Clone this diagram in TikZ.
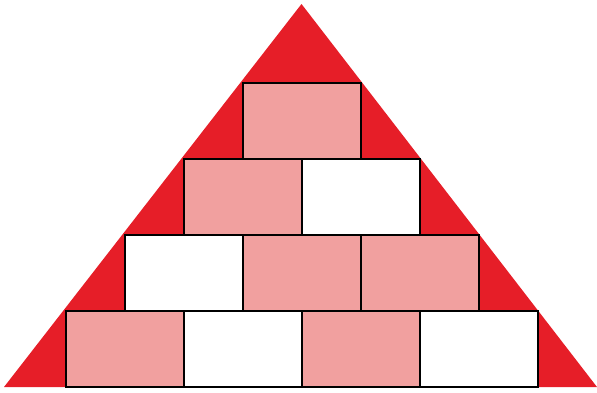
\documentclass[tikz,border=0pt]{standalone}
\definecolor{tri}{HTML}{E61E28}
\definecolor{pinkb}{HTML}{F1A09F}
\begin{document}
\begin{tikzpicture}[x=1pt,y=-1pt,
  brick/.style={draw=black,line width=1.3pt,minimum width=118pt,minimum height=76pt,inner sep=0pt,outer sep=0pt,anchor=north west},
  pb/.style={brick,fill=pinkb},
  wb/.style={brick,fill=white}]
\useasboundingbox (0,0) rectangle (597,392);
\fill[tri] (4,387) -- (301.5,4) -- (597,387) -- cycle;
% row 1
\node[pb] (r1a) at (243,83) {};
% row 2
\node[pb] (r2a) at (184,159) {};
\node[wb] (r2b) at (302,159) {};
% row 3
\node[wb] (r3a) at (125,235) {};
\node[pb] (r3b) at (243,235) {};
\node[pb] (r3c) at (361,235) {};
% row 4
\node[pb] (r4a) at (66,311) {};
\node[wb] (r4b) at (184,311) {};
\node[pb] (r4c) at (302,311) {};
\node[wb] (r4d) at (420,311) {};
\end{tikzpicture}
\end{document}
